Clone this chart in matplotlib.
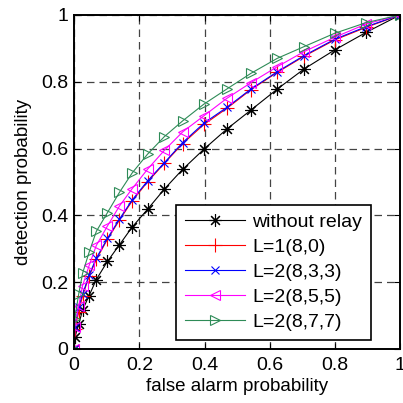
import matplotlib
matplotlib.use("Agg")
import matplotlib.pyplot as plt

plt.rcParams['font.family'] = ['Liberation Sans', 'DejaVu Sans']

# false alarm probability grid (shared by all curves)
pfa = [0, 0.002, 0.014, 0.026, 0.046, 0.068, 0.102, 0.139, 0.178, 0.225,
       0.277, 0.333, 0.398, 0.468, 0.542, 0.623, 0.705, 0.799, 0.896, 1.0]

# detection probability for each scheme
pd_norelay = [0, 0.035, 0.074, 0.117, 0.160, 0.208, 0.262, 0.312, 0.365, 0.418,
              0.479, 0.538, 0.598, 0.658, 0.715, 0.778, 0.838, 0.895, 0.948, 1.0]
pd_l1 = [0, 0.060, 0.110, 0.160, 0.218, 0.268, 0.328, 0.386, 0.443, 0.500,
         0.556, 0.615, 0.672, 0.720, 0.776, 0.828, 0.876, 0.925, 0.963, 1.0]
pd_l2_833 = [0, 0.067, 0.127, 0.164, 0.222, 0.272, 0.331, 0.389, 0.446, 0.503,
             0.558, 0.618, 0.676, 0.723, 0.778, 0.830, 0.878, 0.927, 0.965, 1.0]
pd_l2_855 = [0, 0.067, 0.130, 0.190, 0.250, 0.310, 0.368, 0.428, 0.480, 0.538,
             0.595, 0.650, 0.698, 0.750, 0.797, 0.845, 0.890, 0.933, 0.973, 1.0]
pd_l2_877 = [0, 0.090, 0.165, 0.227, 0.290, 0.352, 0.408, 0.469, 0.527, 0.583,
             0.636, 0.683, 0.733, 0.778, 0.825, 0.870, 0.905, 0.945, 0.977, 1.0]

labels = ["without relay", "L=1(8,0)", "L=2(8,3,3)", "L=2(8,5,5)", "L=2(8,7,7)"]
series = [pd_norelay, pd_l1, pd_l2_833, pd_l2_855, pd_l2_877]
colors = ["black", "red", "blue", "magenta", "#2E8B57"]
markers = [(8, 2, 0), "+", "x", "<", ">"]   # (8,2,0) = asterisk like MATLAB '*'
msizes = [9, 10, 6, 7, 7]

fig = plt.figure(figsize=(4.03, 4.03), dpi=100)
ax = fig.add_axes([0.184, 0.134, 0.809, 0.829])

for y, lab, c, m, ms in zip(series, labels, colors, markers, msizes):
    ax.plot(pfa, y, color=c, marker=m, markersize=ms, markerfacecolor='none',
            markeredgecolor=c, markeredgewidth=0.8, linewidth=0.8, label=lab)

ax.set_xlim(0, 1)
ax.set_ylim(0, 1)
ax.set_xticks([0, 0.2, 0.4, 0.6, 0.8, 1])
ax.set_yticks([0, 0.2, 0.4, 0.6, 0.8, 1])
ax.set_xticklabels(["0", "0.2", "0.4", "0.6", "0.8", "1"])
ax.set_yticklabels(["0", "0.2", "0.4", "0.6", "0.8", "1"])
ax.tick_params(direction='in', top=True, right=True, labelsize=14, length=4)
ax.tick_params(axis='x', pad=6)
ax.tick_params(axis='y', pad=4)
ax.grid(True, color='#444444', linestyle=(0, (6, 4)), linewidth=0.9)
for s in ax.spines.values():
    s.set_linewidth(1.4)

ax.set_xlabel("false alarm probability", fontsize=13.5, labelpad=3)
ax.set_ylabel("detection probability", fontsize=13.5, labelpad=7)

leg = ax.legend(loc='lower right', bbox_to_anchor=(0.91, 0.027), borderaxespad=0,
                fontsize=14, fancybox=False, edgecolor='black', framealpha=1,
                handlelength=3.1, labelspacing=0.38, borderpad=0.45,
                handletextpad=0.36)
leg.get_frame().set_linewidth(1.2)

fig.savefig("out.png", dpi=100)
